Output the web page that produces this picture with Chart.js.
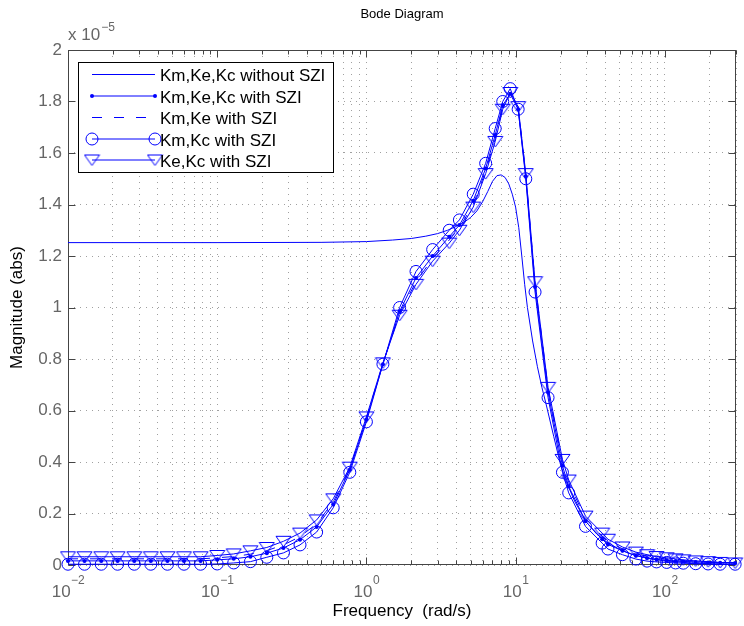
<!DOCTYPE html>
<html>
<head>
<meta charset="utf-8">
<script src="https://cdn.jsdelivr.net/npm/chart.js@4/dist/chart.umd.min.js"></script>
<style>
html,body{margin:0;padding:0;background:#fff;overflow:hidden;}
#box{position:relative;width:744px;height:626px;}
</style>
</head>
<body>
<div id="box"><canvas id="chart" width="744" height="626"></canvas></div>
<script>
// ---------------- data ----------------
const seriesNames = ['Km,Ke,Kc without SZI', 'Km,Ke,Kc with SZI', 'Km,Ke with SZI', 'Km,Kc with SZI', 'Ke,Kc with SZI'];

const freqNoSZI = [0.01,0.1,0.5,1,1.5,2,2.5,3,3.5,4,4.5,5,5.5,6,6.5,7,7.5,8,8.5,9,9.5,10,10.5,11,11.5,12,13,14,15,16,18,20,22,25,30,35,40,50,60,80,100,150,200,300];
const magNoSZI = [1.252,1.252,1.253,1.256,1.262,1.268,1.277,1.287,1.30,1.315,1.33,1.35,1.375,1.41,1.45,1.49,1.512,1.515,1.505,1.48,1.44,1.39,1.31,1.20,1.09,1.0,0.87,0.77,0.69,0.625,0.50,0.39,0.32,0.245,0.165,0.12,0.092,0.06,0.042,0.024,0.016,0.008,0.005,0.002];

const freqSZI = [0.01,0.0129,0.0167,0.0215,0.0278,0.0359,0.0464,0.0599,0.0774,0.1,0.129,0.167,0.215,0.278,0.359,0.464,0.599,0.774,1.0,1.29,1.67,2.15,2.78,3.59,4.2,5.2,6.3,7.3,8.2,9.2,10.4,11.7,13.5,16.5,20.6,22.7,29.4,38,41.6,52,64,76,88,103,118,133,161,195,235,296];
const magKmKeKcSZI = [0.016,0.016,0.016,0.016,0.016,0.016,0.016,0.016,0.016,0.02,0.024,0.032,0.046,0.066,0.098,0.148,0.235,0.37,0.565,0.78,0.985,1.115,1.20,1.275,1.32,1.415,1.54,1.67,1.785,1.83,1.77,1.51,1.08,0.67,0.385,0.305,0.17,0.10,0.08,0.055,0.036,0.027,0.022,0.018,0.016,0.014,0.012,0.01,0.009,0.008];
const magKmKeSZI = [0.024,0.024,0.024,0.024,0.024,0.024,0.024,0.024,0.024,0.028,0.033,0.042,0.056,0.078,0.11,0.16,0.245,0.375,0.57,0.782,0.978,1.10,1.19,1.262,1.31,1.40,1.53,1.655,1.78,1.83,1.78,1.52,1.095,0.685,0.40,0.32,0.18,0.112,0.09,0.063,0.043,0.034,0.028,0.023,0.02,0.017,0.014,0.012,0.01,0.009];
const magKmKcSZI = [0.003,0.003,0.003,0.003,0.003,0.003,0.003,0.003,0.003,0.004,0.008,0.013,0.03,0.047,0.078,0.128,0.222,0.36,0.556,0.78,1.0,1.14,1.225,1.30,1.34,1.44,1.56,1.695,1.80,1.85,1.77,1.50,1.06,0.65,0.36,0.28,0.15,0.085,0.062,0.04,0.023,0.015,0.012,0.01,0.008,0.007,0.005,0.004,0.003,0.003];
const magKeKcSZI = [0.032,0.032,0.032,0.032,0.032,0.032,0.032,0.032,0.032,0.037,0.043,0.055,0.068,0.092,0.124,0.175,0.257,0.38,0.575,0.785,0.97,1.09,1.18,1.25,1.30,1.39,1.52,1.645,1.77,1.835,1.78,1.52,1.10,0.69,0.41,0.33,0.19,0.124,0.10,0.07,0.05,0.04,0.033,0.028,0.024,0.02,0.016,0.013,0.01,0.008];

const xDecades = [0.01, 0.1, 1, 10, 100];
const xDecadeExponents = ['\u22122', '\u22121', '0', '1', '2'];
const xMinorMultipliers = [1,2,3,4,5,6,7,8,9];
const yTickValues = [0,0.2,0.4,0.6,0.8,1,1.2,1.4,1.6,1.8,2];
const yMultiplierExponent = '\u22125';

// ---------------- styles ----------------
const BLUE = '#0000ff';
const FONT = "'Liberation Sans', Arial, Helvetica, sans-serif";
const TICKCOL = '#666666';
const DASH = [10, 12];

function makeTriangle() {
  const c = document.createElement('canvas');
  c.width = 17; c.height = 13;
  const g = c.getContext('2d');
  g.strokeStyle = BLUE; g.lineWidth = 1;
  g.beginPath();
  g.moveTo(1, 1.5); g.lineTo(16, 1.5); g.lineTo(8.5, 12); g.closePath();
  g.stroke();
  return c;
}
const triImg = makeTriangle();

const toXY = (xs, ys) => xs.map((v, i) => ({x: v, y: ys[i]}));

const datasets = [
  {label: seriesNames[0], data: toXY(freqNoSZI, magNoSZI), borderColor: BLUE, borderWidth: 1, pointRadius: 0, order: 5},
  {label: seriesNames[1], data: toXY(freqSZI, magKmKeKcSZI), borderColor: BLUE, borderWidth: 1, pointRadius: 2, pointStyle: 'circle', pointBackgroundColor: BLUE, pointBorderColor: BLUE, pointBorderWidth: 0, order: 4},
  {label: seriesNames[2], data: toXY(freqSZI, magKmKeSZI), borderColor: BLUE, borderWidth: 1, borderDash: DASH, pointRadius: 0, order: 3},
  {label: seriesNames[3], data: toXY(freqSZI, magKmKcSZI), borderColor: BLUE, borderWidth: 1, pointRadius: 6, pointStyle: 'circle', pointBackgroundColor: 'rgba(0,0,0,0)', pointBorderColor: BLUE, pointBorderWidth: 1, order: 2},
  {label: seriesNames[4], data: toXY(freqSZI, magKeKcSZI), borderColor: BLUE, borderWidth: 1, pointRadius: 7, pointStyle: triImg, order: 1}
].map(d => Object.assign({tension: 0, fill: false, clip: false, pointHoverRadius: d.pointRadius}, d));

// ---------------- plugins ----------------
const axesPlugin = {
  id: 'matlabAxes',
  beforeDatasetsDraw(chart) {
    const {ctx, chartArea: a, scales: {x, y}} = chart;
    const L = Math.round(a.left) + 0.5, R = Math.round(a.right) - 0.5;
    const T = Math.round(a.top) + 0.5, B = Math.round(a.bottom) - 0.5;
    ctx.save();
    ctx.strokeStyle = '#444'; ctx.lineWidth = 1;
    ctx.beginPath();
    x.ticks.forEach(t => {
      const px = Math.round(x.getPixelForValue(t.value)) + 0.5;
      const len = xDecades.includes(t.value) ? 7 : 4;
      ctx.moveTo(px, B); ctx.lineTo(px, B - len);
      ctx.moveTo(px, T); ctx.lineTo(px, T + len);
    });
    y.ticks.forEach(t => {
      const py = Math.round(y.getPixelForValue(t.value)) + 0.5;
      ctx.moveTo(L, py); ctx.lineTo(L + 7, py);
      ctx.moveTo(R, py); ctx.lineTo(R - 7, py);
    });
    ctx.stroke();
    ctx.strokeRect(L, T, R - L, B - T);

    // x tick labels with superscript exponents
    ctx.fillStyle = TICKCOL;
    ctx.textBaseline = 'alphabetic';
    xDecades.forEach((d, i) => {
      const px = x.getPixelForValue(d);
      ctx.font = '17px ' + FONT;
      const wb = ctx.measureText('10').width;
      ctx.font = '12px ' + FONT;
      const we = ctx.measureText(xDecadeExponents[i]).width;
      const start = px - (wb + we) / 2;
      ctx.font = '17px ' + FONT;
      ctx.textAlign = 'left';
      ctx.fillText('10', start, 597);
      ctx.font = '12px ' + FONT;
      ctx.fillText(xDecadeExponents[i], start + wb + 0.5, 584);
    });
    // y multiplier
    ctx.font = '17px ' + FONT;
    ctx.textAlign = 'left';
    ctx.fillText('x 10', a.left, 40);
    const wx = ctx.measureText('x 10').width;
    ctx.font = '12px ' + FONT;
    ctx.fillText(yMultiplierExponent, a.left + wx + 1, 31);
    ctx.restore();
  },
  afterDraw(chart) {
    const ctx = chart.ctx;
    const box = {l: 78, t: 62, r: 334, b: 173};
    const lx0 = 92, lx1 = 155, tx = 160;
    const rows = [74.5, 96, 117.5, 139, 160];
    ctx.save();
    ctx.fillStyle = '#fff';
    ctx.fillRect(box.l, box.t, box.r - box.l, box.b - box.t);
    ctx.strokeStyle = '#000'; ctx.lineWidth = 1;
    ctx.strokeRect(box.l + 0.5, box.t + 0.5, box.r - box.l - 1, box.b - box.t - 1);
    seriesNames.forEach((name, i) => {
      const yy = rows[i];
      ctx.strokeStyle = BLUE; ctx.lineWidth = 1;
      ctx.setLineDash(i === 2 ? DASH : []);
      ctx.beginPath(); ctx.moveTo(lx0, yy); ctx.lineTo(lx1, yy); ctx.stroke();
      ctx.setLineDash([]);
      [lx0, lx1].forEach(mx => {
        if (i === 1) { ctx.fillStyle = BLUE; ctx.beginPath(); ctx.arc(mx, yy, 2, 0, Math.PI * 2); ctx.fill(); }
        if (i === 3) { ctx.beginPath(); ctx.arc(mx, yy, 6, 0, Math.PI * 2); ctx.stroke(); }
        if (i === 4) { ctx.drawImage(triImg, mx - triImg.width / 2, yy - triImg.height / 2); }
      });
      ctx.fillStyle = '#000';
      ctx.font = '17px ' + FONT;
      ctx.textAlign = 'left'; ctx.textBaseline = 'alphabetic';
      ctx.fillText(name, tx, rows[i] + 6.5);
    });
    ctx.restore();
  }
};

// ---------------- chart ----------------
Chart.defaults.font.family = FONT;
new Chart(document.getElementById('chart'), {
  type: 'line',
  data: {datasets},
  options: {
    responsive: false,
    animation: false,
    devicePixelRatio: 1,
    layout: {padding: {left: 0, right: 1, top: 0, bottom: 0}},
    plugins: {
      legend: {display: false},
      tooltip: {enabled: false},
      title: {display: true, fullSize: false, text: 'Bode Diagram', color: '#000', font: {size: 13, weight: 'normal'}, padding: {top: 7, bottom: 27.4}}
    },
    scales: {
      x: {
        type: 'logarithmic', position: 'bottom', min: 0.01, max: 300,
        afterBuildTicks: s => {
          const t = [];
          xDecades.forEach(d => xMinorMultipliers.forEach(m => { const v = d * m; if (v <= 300) t.push({value: v}); }));
          s.ticks = t;
        },
        afterFit: s => { s.height = 61; },
        ticks: {display: false},
        grid: {color: '#a0a0a0', lineWidth: 1, drawTicks: false},
        border: {display: false, dash: [1, 5]},
        title: {display: true, text: 'Frequency  (rad/s)', color: '#000', font: {size: 17}, padding: {top: 0, bottom: 4}}
      },
      y: {
        type: 'linear', min: 0, max: 2,
        afterBuildTicks: s => { s.ticks = yTickValues.map(v => ({value: v})); },
        afterFit: s => { s.width = 68; },
        ticks: {color: TICKCOL, font: {size: 17}, padding: 6, callback: v => String(Number(v.toFixed(1)))},
        grid: {color: '#a0a0a0', lineWidth: 1, drawTicks: false},
        border: {display: false, dash: [1, 5]},
        title: {display: true, text: 'Magnitude (abs)', color: '#000', font: {size: 17}, padding: {top: 7.5, bottom: 0}}
      }
    }
  },
  plugins: [axesPlugin]
});
</script>
</body>
</html>
